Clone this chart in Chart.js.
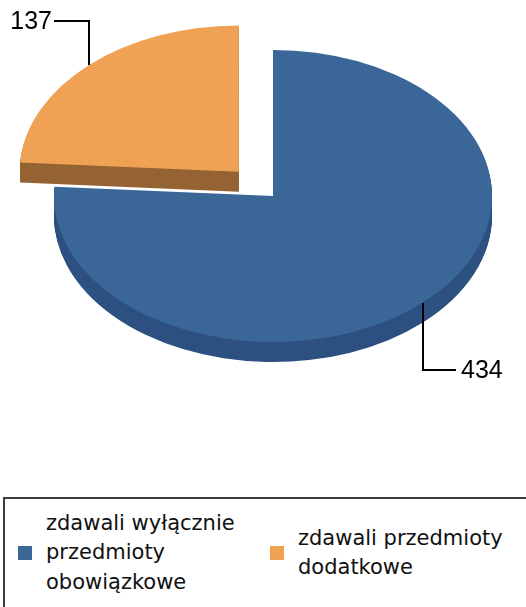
<!DOCTYPE html>
<html>
<head>
<meta charset="utf-8">
<script src="https://cdn.jsdelivr.net/npm/chart.js@4.4.0/dist/chart.umd.min.js"></script>
<style>
    html, body { margin: 0; padding: 0; background: #fff; }
    body { width: 526px; height: 607px; overflow: hidden; position: relative; font-family: "DejaVu Sans", sans-serif; }
    #pieChart { position: absolute; left: 0; top: 0; }
    .legend-box { position: absolute; left: 3px; top: 497px; width: 600px; height: 160px; border: 2px solid #3c3c3c; }
    .legend-item { position: absolute; top: 0; height: 108px; display: flex; align-items: center; }
    .legend-swatch { width: 14px; height: 14px; flex: none; }
    .legend-text { margin-left: 14px; font-size: 21px; line-height: 29.5px; color: #111; }
</style>
</head>
<body>
<canvas id="pieChart" width="526" height="420"></canvas>
<div class="legend-box" id="legendBox"></div>
<script>
// data
const categories = ['zdawali wyłącznie przedmioty obowiązkowe', 'zdawali przedmioty dodatkowe'];
const values = [434, 137];

// styling
const faceColors = ['#3a6698', '#f0a254'];
const sideColors = ['#2d5181', '#956334'];
const TILT = 0.667;   // vertical squash of the pie
const DEPTH = 20;     // thickness in screen px

document.addEventListener('DOMContentLoaded', () => {
    // fake 3D: squash the pie and extrude each slice downwards
    const tiltPlugin = {
        id: 'tilt3d',
        beforeDatasetsDraw(chart) {
            const ctx = chart.ctx;
            const arcs = chart.getDatasetMeta(0).data;
            const cy = arcs[0].y;
            ctx.save();
            ctx.translate(0, cy);
            ctx.scale(1, TILT);
            ctx.translate(0, -cy);
            // back slice first, then the front one
            [1, 0].forEach(i => {
                const arc = arcs[i];
                const opts = arc.options;
                arc.options = Object.assign({}, opts, { backgroundColor: sideColors[i], borderWidth: 0 });
                for (let d = DEPTH; d >= 1; d--) {
                    ctx.save();
                    ctx.translate(0, d / TILT);
                    arc.draw(ctx);
                    ctx.restore();
                }
                arc.options = opts;
            });
        },
        afterDatasetsDraw(chart) {
            chart.ctx.restore();
        }
    };

    // value labels with elbow leader lines
    const leaderPlugin = {
        id: 'leaderLabels',
        afterDraw(chart) {
            const ctx = chart.ctx;
            const arcs = chart.getDatasetMeta(0).data;
            ctx.save();
            ctx.font = '25px "Liberation Sans", Arial, sans-serif';
            ctx.fillStyle = '#000';
            ctx.strokeStyle = '#000';
            ctx.lineWidth = 2;
            arcs.forEach((arc, i) => {
                const mid = (arc.startAngle + arc.endAngle) / 2;
                const r = arc.outerRadius + (arc.options.offset || 0) / 4;
                const ax = Math.round(arc.x + Math.cos(mid) * r);
                const ay = Math.round(arc.y + Math.sin(mid) * r * TILT);
                const down = Math.sin(mid) > 0;
                const right = Math.cos(mid) > 0;
                const ly = ay + (down ? 67 : -44);
                const lx = ax + (right ? 33 : -35);
                ctx.beginPath();
                ctx.moveTo(ax, ay);
                ctx.lineTo(ax, ly);
                ctx.lineTo(lx, ly);
                ctx.stroke();
                ctx.textAlign = right ? 'left' : 'right';
                ctx.textBaseline = 'middle';
                ctx.fillText(String(values[i]), lx + (right ? 5 : -2), ly + 1);
            });
            ctx.restore();
        }
    };

    const canvas = document.getElementById('pieChart');
    new Chart(canvas.getContext('2d'), {
        type: 'pie',
        data: {
            labels: categories,
            datasets: [{
                data: values,
                backgroundColor: faceColors,
                borderWidth: 0,
                offset: [0, 200],
                clip: false
            }]
        },
        options: {
            responsive: false,
            animation: false,
            radius: 219,
            layout: { padding: { left: 20, right: 0, top: 0, bottom: 28 } },
            plugins: {
                legend: { display: false },
                tooltip: { enabled: false }
            }
        },
        plugins: [tiltPlugin, leaderPlugin]
    });

    // legend box below the chart
    const legendBox = document.getElementById('legendBox');
    const itemLeft = [13, 265];
    const textWidth = [205, 222];
    categories.forEach((label, i) => {
        const item = document.createElement('div');
        item.className = 'legend-item';
        item.style.left = itemLeft[i] + 'px';
        item.innerHTML = `
            <div class="legend-swatch" style="background:${faceColors[i]}"></div>
            <div class="legend-text" style="width:${textWidth[i]}px">${label}</div>
        `;
        legendBox.appendChild(item);
    });
});
</script>
</body>
</html>
